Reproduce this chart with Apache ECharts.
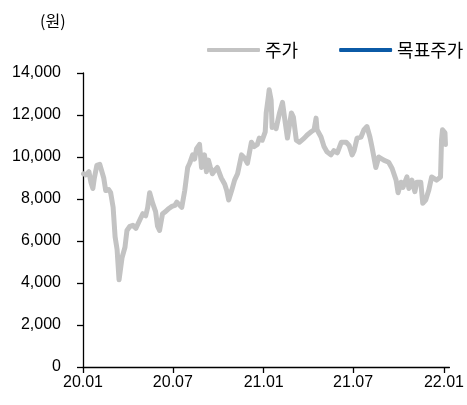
<!DOCTYPE html>
<html>
<head>
<meta charset="utf-8">
<script src="https://cdn.jsdelivr.net/npm/echarts@6/dist/echarts.min.js"></script>
<style>
  html, body { margin: 0; padding: 0; background: #fff; }
  #chart { width: 467px; height: 405px; }
</style>
</head>
<body>
<div id="chart"></div>
<script>
// Daily closing price (원), sampled trading days
const priceDates = [
  '2020-01-02','2020-01-07','2020-01-13','2020-01-17','2020-01-21','2020-01-24','2020-01-29',
  '2020-02-04','2020-02-08','2020-02-12','2020-02-16','2020-02-22','2020-02-26',
  '2020-03-02','2020-03-06','2020-03-10','2020-03-14','2020-03-18','2020-03-20','2020-03-26','2020-03-30',
  '2020-04-05','2020-04-11','2020-04-17','2020-04-25',
  '2020-05-01','2020-05-07','2020-05-11','2020-05-15','2020-05-21','2020-05-27','2020-05-31',
  '2020-06-04','2020-06-10','2020-06-16','2020-06-23','2020-06-29',
  '2020-07-05','2020-07-09','2020-07-15','2020-07-19','2020-07-25','2020-07-31',
  '2020-08-04','2020-08-10','2020-08-14','2020-08-18','2020-08-24','2020-08-28',
  '2020-09-03','2020-09-07','2020-09-11','2020-09-15','2020-09-19','2020-09-25','2020-09-29',
  '2020-10-07','2020-10-14','2020-10-18','2020-10-22','2020-10-28',
  '2020-11-03','2020-11-09','2020-11-17','2020-11-23','2020-11-29',
  '2020-12-03','2020-12-07','2020-12-13','2020-12-19','2020-12-23','2020-12-29',
  '2021-01-04','2021-01-06','2021-01-10','2021-01-12','2021-01-16','2021-01-18','2021-01-22','2021-01-26',
  '2021-02-02','2021-02-08','2021-02-12','2021-02-18','2021-02-22','2021-02-26',
  '2021-03-02','2021-03-08','2021-03-14','2021-03-18','2021-03-24','2021-03-30',
  '2021-04-07','2021-04-13','2021-04-17','2021-04-19','2021-04-27',
  '2021-05-03','2021-05-09','2021-05-17','2021-05-23','2021-05-30',
  '2021-06-07','2021-06-17','2021-06-23','2021-06-29',
  '2021-07-03','2021-07-09','2021-07-17','2021-07-23','2021-07-29',
  '2021-08-04','2021-08-08','2021-08-16','2021-08-22',
  '2021-09-01','2021-09-11','2021-09-18','2021-09-26','2021-09-30',
  '2021-10-06','2021-10-10','2021-10-18','2021-10-22','2021-10-28',
  '2021-11-03','2021-11-07','2021-11-15','2021-11-19','2021-11-25',
  '2021-12-01','2021-12-07','2021-12-17','2021-12-25','2021-12-27','2021-12-29',
  '2022-01-03','2022-01-04'
];
const priceValues = [
  9200, 9150, 9300, 8800, 8500, 9000, 9600,
  9650, 9600, 9000, 8400, 8450, 8300,
  7600, 6200, 5600, 4150, 4100, 5200, 5700, 6500,
  6700, 6750, 6600, 7000,
  7300, 7200, 7600, 8300, 7800, 7400, 6700,
  6500, 7300, 7400, 7550, 7650,
  7700, 7850, 7700, 7600, 8400, 9500,
  9700, 10100, 9900, 10400, 10600, 9500,
  10100, 9300, 9850, 9500, 9200, 9400, 9500,
  9000, 8700, 8400, 7950, 8400,
  8900, 9200, 10100, 9950, 9700,
  10200, 10700, 10500, 10600, 10900, 10800,
  11200, 12100, 12800, 13200, 12700, 11400, 11500, 11350,
  12100, 12600, 11900, 10900, 11500, 12100,
  11900, 10800, 10700, 10650, 10900, 11050,
  11200, 11300, 11850, 11300, 10950,
  10500, 10250, 10100, 10300, 10200,
  10700, 10700, 10550, 10100,
  10300, 10900, 10950, 11300, 11450,
  10950, 10500, 9500, 10000,
  9850, 9750, 9450, 8900, 8300,
  8800, 8550, 9050, 8500, 8900,
  8350, 8800, 8800, 7800, 7950,
  8400, 9050, 8900, 9050, 10800, 11300,
  11150, 10600
];
// Target price: no published figure over this period
const targetDates = [];
const targetValues = [];

const xTickDates = ['2020-01-01', '2020-07-01', '2021-01-01', '2021-07-01', '2022-01-01'];

const seriesNames = ['주가', '목표주가'];
const unitLabel = '(원)';

const numFont = '"Liberation Sans", Arial, sans-serif';
const krFont = '"Noto Sans CJK KR", "Noto Sans", sans-serif';

const toTime = s => new Date(s + 'T00:00:00Z').getTime();
const fmtDate = v => {
  const d = new Date(v);
  const yy = String(d.getUTCFullYear()).slice(2);
  const mm = String(d.getUTCMonth() + 1).padStart(2, '0');
  return yy + '.' + mm;
};

const chart = echarts.init(document.getElementById('chart'), null, { renderer: 'canvas' });
chart.setOption({
  animation: false,
  backgroundColor: '#ffffff',
  title: {
    text: unitLabel,
    left: 35,
    top: 8,
    textStyle: { fontFamily: krFont, fontSize: 16, fontWeight: 'normal', color: '#000' }
  },
  legend: {
    left: 202,
    top: 36,
    width: 400,
    orient: 'horizontal',
    itemWidth: 53,
    itemHeight: 4,
    itemGap: 41,
    icon: 'roundRect',
    textStyle: { fontFamily: krFont, fontSize: 18, color: '#000' },
    data: seriesNames
  },
  grid: { left: 83, right: 16, top: 73, bottom: 38, containLabel: false },
  xAxis: {
    type: 'value',
    min: toTime('2020-01-01'),
    max: toTime('2022-01-12'),
    axisLine: { show: true, onZero: false, lineStyle: { color: '#000', width: 1.3 } },
    axisTick: {
      show: true, length: 6, lineStyle: { color: '#000', width: 1.3 },
      customValues: xTickDates.map(toTime)
    },
    axisLabel: {
      customValues: xTickDates.map(toTime),
      formatter: v => fmtDate(v),
      fontFamily: numFont, fontSize: 16, color: '#000', margin: 8
    },
    splitLine: { show: false }
  },
  yAxis: {
    type: 'value',
    min: 0,
    max: 14000,
    interval: 2000,
    axisLine: { show: true, lineStyle: { color: '#000', width: 1.3 } },
    axisTick: { show: true, length: 6, lineStyle: { color: '#000', width: 1.3 } },
    axisLabel: {
      formatter: v => v.toLocaleString('en-US'),
      fontFamily: numFont, fontSize: 16, color: '#000', margin: 22
    },
    splitLine: { show: false }
  },
  series: [
    {
      name: seriesNames[0],
      type: 'line',
      data: priceDates.map((d, i) => [toTime(d), priceValues[i]]),
      showSymbol: false,
      symbol: 'none',
      color: '#c3c3c3',
      lineStyle: { color: '#c3c3c3', width: 5, join: 'round', cap: 'round' }
    },
    {
      name: seriesNames[1],
      type: 'line',
      data: targetDates.map((d, i) => [toTime(d), targetValues[i]]),
      showSymbol: false,
      symbol: 'none',
      color: '#0b5aa6',
      lineStyle: { color: '#0b5aa6', width: 4 }
    }
  ]
});
</script>
</body>
</html>
